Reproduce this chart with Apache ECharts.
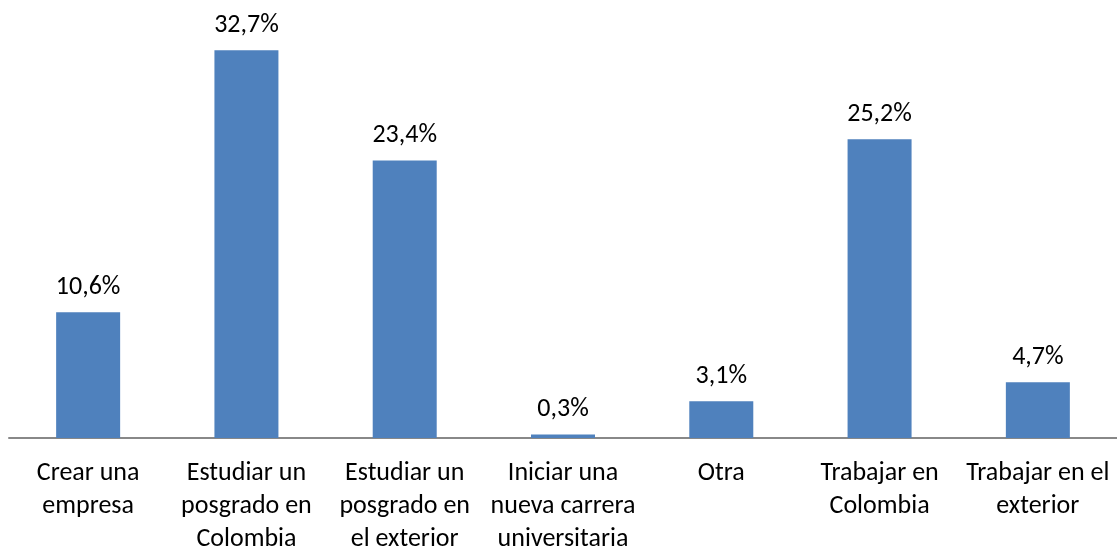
<!DOCTYPE html>
<html lang="es">
  <head>
    <meta charset="utf-8" />
    <title>Bar chart</title>
    <script src="https://cdn.jsdelivr.net/npm/echarts@6/dist/echarts.min.js"></script>
    <style>
      * { margin: 0; padding: 0; }
      html, body, #chart { width: 100%; height: 100%; overflow: hidden; background: #fff; }
    </style>
  </head>
  <body>
    <div id="chart"></div>
    <script>
      var categories = [
        "Crear una\nempresa",
        "Estudiar un\nposgrado en\nColombia",
        "Estudiar un\nposgrado en\nel exterior",
        "Iniciar una\nnueva carrera\nuniversitaria",
        "Otra",
        "Trabajar en\nColombia",
        "Trabajar en el\nexterior"
      ];
      var values = [10.6, 32.7, 23.4, 0.3, 3.1, 25.2, 4.7];

      var font = "Carlito, 'Open Sans', 'Noto Sans', sans-serif";
      var chart = echarts.init(document.getElementById("chart"));
      chart.setOption({
        animation: false,
        grid: { left: 9, right: 0, top: 23, bottom: 112, outerBoundsMode: "none", containLabel: false },
        xAxis: {
          type: "category",
          data: categories,
          axisTick: { show: false },
          axisLine: { lineStyle: { color: "#888888", width: 2 } },
          axisLabel: {
            interval: 0,
            margin: 19,
            fontFamily: font,
            fontSize: 26,
            lineHeight: 33,
            color: "#000"
          }
        },
        yAxis: {
          type: "value",
          min: 0,
          max: 35,
          show: false,
          splitLine: { show: false }
        },
        series: [
          {
            type: "bar",
            data: values,
            barWidth: 64,
            itemStyle: { color: "#4F81BD" },
            label: {
              show: true,
              position: "top",
              distance: 12,
              fontFamily: font,
              fontSize: 26,
              color: "#000",
              formatter: function (p) {
                return p.value.toFixed(1).replace(".", ",") + "%";
              }
            }
          }
        ]
      });
    </script>
  </body>
</html>
